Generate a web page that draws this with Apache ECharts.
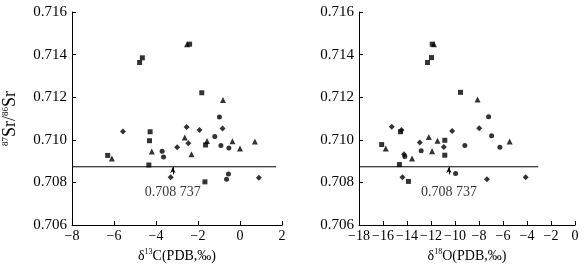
<!DOCTYPE html>
<html>
<head>
<meta charset="utf-8">
<script src="https://cdn.jsdelivr.net/npm/echarts@6/dist/echarts.min.js"></script>
<style>html,body{margin:0;padding:0;background:#fff}#c{width:587px;height:268px}</style>
</head>
<body>
<div id="c"></div>
<script>
// ---- data ----
var refValue = 0.708737;
var refLabel = '0.708 737';
var leftLineX = [-8, 1.72];
var rightLineX = [-18, -3.06];
var leftArrowX = -3.2;
var rightArrowX = -10.51;
var arrowY = [0.70838, 0.70873];
var labelY = 0.70752;

var leftSquares = [[-4.78,0.71363],[-4.65,0.71385],[-2.40,0.71449],[-1.82,0.71221],[-4.28,0.71038],[-4.31,0.70996],[-6.30,0.70927],[-4.34,0.70882],[-1.64,0.70976],[-1.67,0.70803]];
var leftTriangles = [[-2.52,0.71449],[-6.10,0.70912],[-4.20,0.70945],[-2.63,0.71011],[-2.31,0.70933],[-1.57,0.70995],[-0.81,0.71187],[-0.36,0.70993],[0.0,0.70959],[0.71,0.70992]];
var leftDiamonds = [[-5.57,0.71039],[-2.54,0.71060],[-1.93,0.71046],[-2.46,0.70984],[-2.99,0.70965],[-0.83,0.71053],[-3.30,0.70825],[0.90,0.70822]];
var leftCircles = [[-3.71,0.70947],[-3.64,0.70919],[-0.98,0.71107],[-1.20,0.71016],[-0.91,0.70974],[-0.53,0.70962],[-0.55,0.70840],[-0.64,0.70815]];

var rightSquares = [[-12.29,0.71363],[-11.96,0.71386],[-11.90,0.71449],[-9.54,0.71223],[-16.11,0.70978],[-14.54,0.71038],[-10.85,0.70998],[-10.85,0.70928],[-14.63,0.70884],[-13.88,0.70805]];
var rightTriangles = [[-11.75,0.71449],[-15.77,0.70959],[-13.58,0.70913],[-12.18,0.71013],[-11.91,0.70947],[-11.46,0.70996],[-8.12,0.71189],[-5.45,0.70992]];
var rightDiamonds = [[-15.27,0.71061],[-14.46,0.71046],[-10.24,0.71041],[-7.98,0.71055],[-12.93,0.70988],[-10.93,0.70967],[-14.38,0.70825],[-4.11,0.70825],[-7.34,0.70815],[-14.25,0.70933]];
var rightCircles = [[-12.82,0.70949],[-9.18,0.70974],[-7.20,0.71109],[-6.95,0.71019],[-6.26,0.70965],[-9.95,0.70842],[-14.18,0.70922]];

var yMin = 0.706, yMax = 0.716, yStep = 0.002;
var leftXRange = [-8, 2], rightXRange = [-18, 0], xStep = 2;

// ---- chart ----
var FONT = 'Liberation Serif';
var chart = echarts.init(document.getElementById('c'), null, {renderer: 'canvas'});

function xAxis(idx, range, nameRich) {
  return {
    type: 'value', gridIndex: idx, min: range[0], max: range[1], interval: xStep,
    name: nameRich, nameLocation: 'middle', nameGap: 22,
    nameTextStyle: {color: '#000', fontFamily: FONT, fontSize: 14,
      rich: {n: {fontFamily: FONT, fontSize: 14, color: '#000'},
             s: {fontFamily: FONT, fontSize: 8, color: '#000', padding: [0,0,8,0]}}},
    axisLine: {show: true, onZero: false, lineStyle: {color: '#000', width: 1}},
    axisTick: {show: true, inside: true, length: 4, lineStyle: {color: '#000'}},
    axisLabel: {color: '#000', fontFamily: FONT, fontSize: 14, margin: 4,
      formatter: function (v) { return String(v).replace('-', '\u2212'); }},
    splitLine: {show: false}
  };
}
function yAxis(idx, nameRich) {
  return {
    type: 'value', gridIndex: idx, min: yMin, max: yMax, interval: yStep,
    name: nameRich, nameLocation: 'middle', nameGap: 52,
    nameTextStyle: {color: '#000', fontFamily: FONT, fontSize: 18,
      rich: {n: {fontFamily: FONT, fontSize: 18, color: '#000'},
             s: {fontFamily: FONT, fontSize: 9, color: '#000', padding: [0,0,10,0]}}},
    axisLine: {show: true, onZero: false, lineStyle: {color: '#000', width: 1}},
    axisTick: {show: true, inside: true, length: 4, lineStyle: {color: '#000'}},
    axisLabel: {color: '#000', fontFamily: FONT, fontSize: 15, margin: 5,
      formatter: function (v) { return v.toFixed(3); }},
    splitLine: {show: false}
  };
}
function pts(idx, data, symbol, size) {
  return {type: 'scatter', xAxisIndex: idx, yAxisIndex: idx, data: data,
    symbol: symbol, symbolSize: size, itemStyle: {color: '#000'}, silent: true, z: 3};
}
function refSeries(idx, lineX, arrowX) {
  return {
    type: 'line', xAxisIndex: idx, yAxisIndex: idx, silent: true, symbol: 'none',
    data: [[lineX[0], refValue], [lineX[1], refValue]],
    lineStyle: {color: '#000', width: 1},
    markLine: {silent: true, symbol: ['none', 'arrow'], symbolSize: [4, 6],
      lineStyle: {color: '#000', width: 1, type: 'solid'}, label: {show: false},
      data: [[{coord: [arrowX, arrowY[0]]}, {coord: [arrowX, arrowY[1]]}]]}
  };
}
function labelSeries(idx, x) {
  return {type: 'scatter', xAxisIndex: idx, yAxisIndex: idx, silent: true,
    data: [[x, labelY]], symbolSize: 0.01,
    label: {show: true, position: 'inside', formatter: refLabel, color: '#000',
      fontFamily: FONT, fontSize: 14}};
}

chart.setOption({
  animation: false,
  backgroundColor: '#fff',
  grid: [
    {left: 68, top: 12, width: 214, height: 216},
    {left: 359, top: 12, width: 216, height: 216}
  ],
  xAxis: [
    xAxis(0, leftXRange, '{n|δ}{s|13}{n|C(PDB,‰)}'),
    xAxis(1, rightXRange, '{n|δ}{s|18}{n|O(PDB,‰)}')
  ],
  yAxis: [
    yAxis(0, '{s|87}{n|Sr/}{s|86}{n|Sr}'),
    Object.assign(yAxis(1, ''), {name: ''})
  ],
  series: [
    refSeries(0, leftLineX, leftArrowX),
    labelSeries(0, leftArrowX),
    pts(0, leftSquares, 'rect', 5),
    pts(0, leftTriangles, 'triangle', 6),
    pts(0, leftDiamonds, 'diamond', 6),
    pts(0, leftCircles, 'circle', 5),
    refSeries(1, rightLineX, rightArrowX),
    labelSeries(1, rightArrowX),
    pts(1, rightSquares, 'rect', 5),
    pts(1, rightTriangles, 'triangle', 6),
    pts(1, rightDiamonds, 'diamond', 6),
    pts(1, rightCircles, 'circle', 5)
  ]
});
</script>
</body>
</html>
